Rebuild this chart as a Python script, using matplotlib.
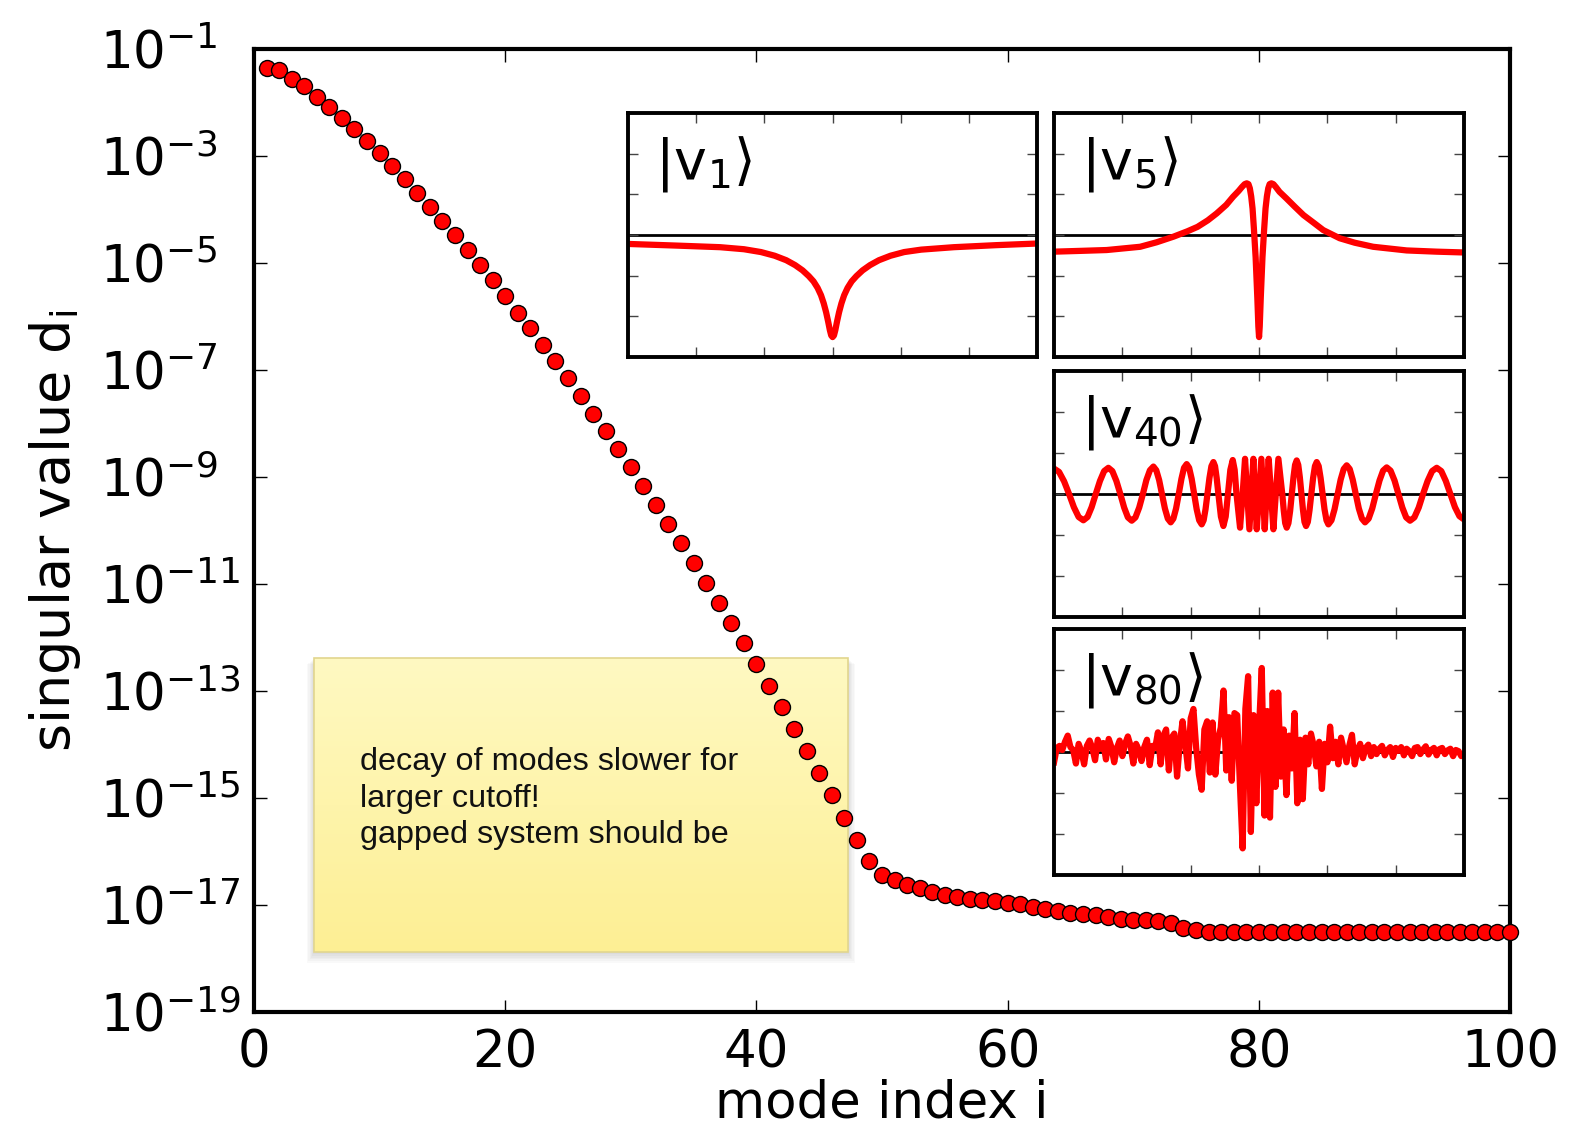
#Singular value spectrum with inset mode shapes
import numpy as np
import matplotlib
matplotlib.use('Agg')
from matplotlib import pyplot as plt
from matplotlib.patches import Rectangle
from matplotlib.ticker import NullLocator

plt.rcParams['font.family'] = 'DejaVu Sans'
plt.rcParams['mathtext.fontset'] = 'dejavusans'

#Singular values d_i for mode index i = 1..100
mode_index = list(range(1, 101))
singular_values = [
    4.42e-2, 4.00e-2, 2.72e-2, 2.01e-2, 1.27e-2, 8.24e-3, 5.13e-3, 3.11e-3, 1.91e-3, 1.11e-3,
    6.41e-4, 3.62e-4, 2.03e-4, 1.11e-4, 6.01e-5, 3.30e-5, 1.73e-5, 9.06e-6, 4.75e-6, 2.42e-6,
    1.13e-6, 6.04e-7, 2.87e-7, 1.44e-7, 6.85e-8, 3.27e-8, 1.51e-8, 7.06e-9, 3.25e-9, 1.51e-9,
    6.59e-10, 2.90e-10, 1.31e-10, 5.77e-11, 2.40e-11, 1.02e-11, 4.34e-12, 1.81e-12, 7.69e-13, 3.11e-13,
    1.24e-13, 5.00e-14, 1.96e-14, 7.53e-15, 2.94e-15, 1.13e-15, 4.21e-16, 1.65e-16, 6.47e-17, 3.59e-17,
    2.83e-17, 2.38e-17, 2.01e-17, 1.71e-17, 1.51e-17, 1.39e-17, 1.29e-17, 1.20e-17, 1.15e-17, 1.09e-17,
    1.01e-17, 8.97e-18, 8.13e-18, 7.57e-18, 7.06e-18, 6.76e-18, 6.28e-18, 5.83e-18, 5.44e-18, 5.13e-18,
    5.07e-18, 4.92e-18, 4.46e-18, 3.59e-18, 3.33e-18, 3.13e-18, 3.13e-18, 3.13e-18, 3.13e-18, 3.13e-18,
    3.13e-18, 3.13e-18, 3.13e-18, 3.13e-18, 3.13e-18, 3.13e-18, 3.13e-18, 3.13e-18, 3.13e-18, 3.13e-18,
    3.13e-18, 3.13e-18, 3.13e-18, 3.13e-18, 3.13e-18, 3.13e-18, 3.13e-18, 3.13e-18, 3.13e-18, 3.13e-18,
]

x_ticks = [0, 20, 40, 60, 80, 100]
y_ticks = [1e-1, 1e-3, 1e-5, 1e-7, 1e-9, 1e-11, 1e-13, 1e-15, 1e-17, 1e-19]

#Mode shapes (site position, amplitude)
v1_x = [0, 70, 135, 170, 195, 215, 232, 245, 256, 265, 272, 278, 283, 287, 290.5, 293.5, 296, 298, 300,
        302, 304, 306.5, 309.5, 313, 317, 322, 328, 335, 344, 355, 368, 385, 405, 430, 478, 540, 600]
v1_y = [-0.22, -0.26, -0.30, -0.35, -0.42, -0.51, -0.62, -0.74, -0.87, -1.01, -1.14, -1.30, -1.48, -1.68,
        -1.90, -2.13, -2.34, -2.47, -2.51, -2.47, -2.34, -2.13, -1.90, -1.68, -1.48, -1.30, -1.14, -1.01,
        -0.87, -0.74, -0.62, -0.51, -0.42, -0.36, -0.30, -0.25, -0.21]

v5_x = [0, 40, 77, 126, 150, 175, 195, 210, 225, 238, 252, 262, 270, 275, 279, 282, 284.5, 286.5, 288.5, 290.5,
        292.5, 295, 297.5, 299, 300, 301, 302.5, 305, 307.5, 309.5, 311.5, 313.5, 315.5, 318, 321, 325, 330,
        340, 352, 365, 380, 394, 418, 440, 467, 516, 560, 600]
v5_y = [-0.41, -0.39, -0.37, -0.29, -0.18, -0.04, 0.09, 0.20, 0.36, 0.53, 0.74, 0.94, 1.08, 1.18, 1.25, 1.27,
        1.25, 1.15, 0.95, 0.65, 0.15, -0.55, -1.55, -2.25, -2.51, -2.25, -1.55, -0.55, 0.15, 0.65, 0.95,
        1.15, 1.25, 1.27, 1.25, 1.17, 1.06, 0.90, 0.70, 0.49, 0.30, 0.12, -0.08, -0.19, -0.29, -0.38,
        -0.41, -0.43]

v40_x = [0, 7.3, 14.7, 22, 29, 36, 42.9, 49, 55, 61, 67.2, 73.3, 79.5, 85.3, 91.2, 97, 102.6, 108.1, 113.7,
         119.1, 124.6, 130, 135.1, 140.3, 145.4, 149.6, 153.8, 158, 162.2, 166.5, 170.7, 174.6, 178.6, 182.5,
         186.4, 190.2, 194.1, 197.7, 201.4, 205, 208.7, 212.4, 216.1, 218.9, 221.7, 224.5, 227.4, 230.3, 233.2,
         235.6, 238, 240.5, 244.2, 247.8, 251.2, 254.5, 258, 261.5, 264.3, 267, 272.2, 276, 279.5, 282.7,
         285.9, 288.8, 291.7, 294, 296.6, 300,
         303.4, 305.8, 308.3, 311, 314.1, 317.5, 321, 324.5, 328.3, 334, 336.2, 338.3, 340.5, 343, 345.5, 348,
         350.4, 352.7, 355.1, 357.4, 359.7, 362, 364.3, 366.5, 368.8, 371.4, 373.9, 376.5, 379.1, 381.8, 384.4,
         387.3, 390.1, 393, 395.8, 398.7, 401.5, 406, 410.5, 415, 419.4, 423.9, 428.3, 432.7, 437.1, 441.5,
         446, 450.6, 455.1, 460.4, 465.7, 471, 476.3, 481.5, 486.8, 492.5, 498.3, 504, 509.7, 515.3, 521,
         527.3, 533.7, 540, 546.7, 553.3, 560, 566.7, 573.3, 580, 586.7, 593.3, 600]
v40_y = [0.62, 0.54, 0.31, 0.0, -0.32, -0.56, -0.64, -0.56, -0.32, 0.0, 0.32, 0.56, 0.64, 0.56, 0.32, 0.0,
         -0.33, -0.57, -0.65, -0.57, -0.33, 0.0, 0.34, 0.58, 0.67, 0.58, 0.34, 0.0, -0.35, -0.60, -0.69,
         -0.60, -0.35, 0.0, 0.37, 0.64, 0.73, 0.64, 0.37, 0.0, -0.37, -0.64, -0.74, -0.64, -0.37, 0.0, 0.39,
         0.68, 0.78, 0.68, 0.39, 0.0, -0.55, -0.78, -0.55, 0.0, 0.59, 0.83, 0.59, 0.0, -0.82, 0.0, 0.86,
         0.0, -0.86, 0.0, 0.86, 0.0, -0.86, 0.0,
         0.86, 0.0, -0.86, 0.0, 0.86, 0.0, -0.86, 0.0, 0.86, 0.0, -0.41, -0.71, -0.82, -0.71, -0.41, 0.0,
         0.41, 0.71, 0.82, 0.71, 0.41, 0.0, -0.39, -0.68, -0.78, -0.68, -0.39, 0.0, 0.39, 0.68, 0.78,
         0.68, 0.39, 0.0, -0.37, -0.64, -0.74, -0.64, -0.37, 0.0, 0.35, 0.61, 0.70, 0.61, 0.35, 0.0,
         -0.35, -0.60, -0.69, -0.60, -0.35, 0.0, 0.33, 0.57, 0.65, 0.57, 0.33, 0.0, -0.33, -0.57, -0.65,
         -0.57, -0.33, 0.0, 0.32, 0.56, 0.64, 0.56, 0.32, 0.0, -0.32, -0.54, -0.62]

v80_y = [-0.25, 0.10, 0.15, 0.05, 0.25, 0.40, 0.12, 0.05, -0.28, 0.20, 0.02, -0.30, 0.15, 0.28, 0.10, -0.20,
         0.30, 0.08, 0.22, -0.18, 0.32, 0.12, -0.25, 0.10, 0.28, -0.10, 0.20, 0.38, 0.15, -0.28, 0.20, 0.05,
         -0.22, 0.12, 0.30, -0.32, 0.15, 0.10, 0.48, -0.30, 0.40, 0.55, -0.45, 0.35, 0.45, -0.60, 0.20, 0.75,
         0.20, -0.40, 0.82, 1.05, 0.10, -0.55, -0.92, 0.55, 0.75, -0.50, 0.72, -0.55, 0.30, 0.60, 1.50, -0.45,
         0.85, -0.70, 0.95, 0.90, -0.80, -2.35, 1.05, 1.85, -1.95, 0.90, -1.25, 0.60, 2.05, -1.55, 1.00, -1.60,
         1.45, -0.85, 1.45, -0.60, 0.55, -1.05, 0.40, -0.40, 0.95, -1.25, 0.30, -1.15, 0.35, -0.30, 0.45, 0.15,
         -0.35, 0.25, -0.90, 0.20, -0.25, 0.62, -0.15, 0.25, -0.30, 0.35, 0.05, -0.25, 0.15, 0.42, -0.30, 0.05,
         0.20, -0.15, 0.10, 0.18, -0.10, 0.12, -0.05, 0.08, 0.15, -0.08, 0.05, 0.12, -0.12, 0.10, 0.03, 0.12,
         -0.08, 0.08, 0.02, -0.10, 0.10, 0.12, -0.05, 0.06, 0.14, -0.06, 0.05, 0.10, -0.08, 0.07, 0.10, -0.05,
         0.04, 0.08, -0.10, 0.05, 0.02, -0.10, -0.05]
v80_x = np.linspace(0, 600, len(v80_y))

note_lines = ['decay of modes slower for', 'larger cutoff!', 'gapped system should be']

fig = plt.figure(figsize=(15.69, 11.33), dpi=100)
ax = fig.add_axes([0.1619, 0.1071, 0.8005, 0.8499])

ax.plot(mode_index, singular_values, 'o', color='red', markeredgecolor='black',
        markersize=11.5, markeredgewidth=1.0, zorder=5, clip_on=False)

ax.set_yscale('log')
ax.set_xlim(0, 100)
ax.set_ylim(1e-19, 1e-1)
ax.set_xticks(x_ticks)
ax.set_yticks(y_ticks)
ax.yaxis.set_minor_locator(NullLocator())
ax.xaxis.set_minor_locator(NullLocator())
ax.tick_params(direction='in', length=9, width=1.0, top=True, right=True, labelsize=37)
ax.tick_params(axis='y', pad=111)
ax.tick_params(axis='x', pad=12)
for lab in ax.get_yticklabels():
    lab.set_horizontalalignment('left')
for s in ax.spines.values():
    s.set_linewidth(3.0)
ax.set_xlabel('mode index i', fontsize=37, labelpad=0)
ax.set_ylabel(r'singular value $\mathregular{d_i}$', fontsize=39, labelpad=12)

#Sticky note with soft shadow and yellow gradient
nx0, nx1, ny0, ny1 = 0.0478, 0.4729, 0.062, 0.3673
for k in range(6):
    d = 0.0015 * (k + 1)
    ax.add_patch(Rectangle((nx0 - d * 0.6, ny0 - d * 1.3), (nx1 - nx0) + d * 1.2, (ny1 - ny0) + d * 0.6,
                           transform=ax.transAxes, facecolor='black', edgecolor='none',
                           alpha=0.025, zorder=1))
grad = np.linspace(0, 1, 256).reshape(-1, 1)
cmap = matplotlib.colors.LinearSegmentedColormap.from_list('note', ['#fdef94', '#fff9c2'])
ax.imshow(grad, extent=(nx0, nx1, ny0, ny1), transform=ax.transAxes, aspect='auto',
          origin='lower', cmap=cmap, zorder=2, interpolation='bilinear')
ax.add_patch(Rectangle((nx0, ny0), nx1 - nx0, ny1 - ny0, transform=ax.transAxes,
                       facecolor='none', edgecolor='#e2d68e', linewidth=1.2, zorder=3))
ax.text(0.0844, 0.2745, '\n'.join(note_lines), transform=ax.transAxes, ha='left', va='top',
        fontsize=23.3, family='Liberation Sans', color='#111111', linespacing=1.27, zorder=4)
ax.set_xlim(0, 100)
ax.set_ylim(1e-19, 1e-1)

#Inset panels with mode shapes
insets = [
    ([0.4003, 0.6849, 0.2607, 0.2154], v1_x, v1_y, r'$|\mathrm{v}_{1}\rangle$'),
    ([0.6718, 0.6849, 0.2613, 0.2154], v5_x, v5_y, r'$|\mathrm{v}_{5}\rangle$'),
    ([0.6718, 0.4554, 0.2613, 0.2171], v40_x, v40_y, r'$|\mathrm{v}_{40}\rangle$'),
    ([0.6718, 0.2277, 0.2613, 0.2171], v80_x, v80_y, r'$|\mathrm{v}_{80}\rangle$'),
]
for rect, xs, ys, label in insets:
    ia = fig.add_axes(rect)
    ia.axhline(0, color='black', linewidth=2.0, zorder=1)
    ia.plot(xs, ys, color='red', linewidth=4.5, solid_joinstyle='round', zorder=2)
    ia.set_xlim(0, 600)
    ia.set_ylim(-3, 3)
    ia.set_xticks([100, 200, 300, 400, 500])
    ia.set_yticks([-2, -1, 0, 1, 2])
    ia.tick_params(direction='in', length=7, width=1.0, color='#444444', top=True, right=True,
                   labelbottom=False, labelleft=False)
    for s in ia.spines.values():
        s.set_linewidth(2.8)
    ia.text(0.065, 0.915, label, transform=ia.transAxes, ha='left', va='top', fontsize=40)

fig.savefig('out.png', dpi=100)
